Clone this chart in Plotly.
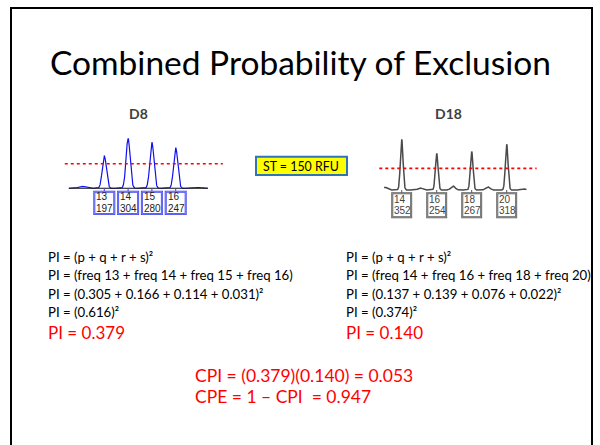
import numpy as np
import plotly.graph_objects as go

W, H = 600, 445

# ---------------- data ----------------
d8_alleles = [13, 14, 15, 16]
d8_rfu = [197, 304, 280, 247]
d8_minor_x = [12.05, 16.94]
d8_minor_h = [12, 6]

d18_alleles = [14, 16, 18, 20]
d18_rfu = [352, 254, 267, 318]
d18_minor_x = [13.05, 15.05, 16.93, 18.93, 20.93]
d18_minor_h = [19, 14, 28, 21, 10]

threshold_rfu = 150

left_lines = ["PI = (p + q + r + s)²",
              "PI = (freq 13 + freq 14 + freq 15 + freq 16)",
              "PI = (0.305 + 0.166 + 0.114 + 0.031)²",
              "PI = (0.616)²"]
left_result = "PI = 0.379"
right_lines = ["PI = (p + q + r + s)²",
               "PI = (freq 14 + freq 16 + freq 18 + freq 20)",
               "PI = (0.137 + 0.139 + 0.076 + 0.022)²",
               "PI = (0.374)²"]
right_result = "PI = 0.140"
cpi_lines = ["CPI = (0.379)(0.140) = 0.053",
             "CPE = 1 – CPI  = 0.947"]

TITLE = "Combined Probability of Exclusion"
FONT = "Lato"


def px(p):
    return p / W


def py(p):
    return 1 - p / H


def trace_signal(alleles, heights, mx, mh, x0, x1, sigma):
    xs = np.linspace(x0, x1, 1400)
    ys = np.zeros_like(xs)
    for a, h in zip(list(alleles) + list(mx), list(heights) + list(mh)):
        s = sigma if h > 60 else sigma * 1.6
        ys += h * np.exp(-0.5 * ((xs - a) / s) ** 2)
    return xs, ys


fig = go.Figure()

# ---- D8 panel (axis x / y) ----
xs, ys = trace_signal(d8_alleles, d8_rfu, d8_minor_x, d8_minor_h, 11.51, 17.35, 0.085)
fig.add_trace(go.Scatter(x=xs, y=ys, mode="lines", line=dict(color="#1010f0", width=1.2),
                         xaxis="x", yaxis="y", hoverinfo="skip"))
fig.add_trace(go.Scatter(x=[11.51, 17.35], y=[0, 0], mode="lines",
                         line=dict(color="#111111", width=1.2), xaxis="x", yaxis="y", hoverinfo="skip"))
fig.add_trace(go.Scatter(x=[11.34, 17.98], y=[threshold_rfu, threshold_rfu], mode="lines",
                         line=dict(color="#ff0000", width=1.6, dash="dot"), xaxis="x", yaxis="y",
                         hoverinfo="skip"))

# ---- D18 panel (axis x2 / y2) ----
xs2, ys2 = trace_signal(d18_alleles, d18_rfu, d18_minor_x, d18_minor_h, 12.99, 21.13, 0.075)
fig.add_trace(go.Scatter(x=xs2, y=ys2, mode="lines", line=dict(color="#4a4a4a", width=1.5),
                         xaxis="x2", yaxis="y2", hoverinfo="skip"))
fig.add_trace(go.Scatter(x=[12.72, 21.71], y=[threshold_rfu, threshold_rfu], mode="lines",
                         line=dict(color="#ff0000", width=1.6, dash="dot"), xaxis="x2", yaxis="y2",
                         hoverinfo="skip"))

hidden = dict(visible=False, showgrid=False, zeroline=False, fixedrange=True)
fig.update_layout(
    width=W, height=H, margin=dict(l=0, r=0, t=0, b=0),
    paper_bgcolor="white", plot_bgcolor="rgba(0,0,0,0)", showlegend=False,
    xaxis=dict(domain=[px(60), px(225)], range=[11.139, 18.071], **hidden),
    yaxis=dict(domain=[py(189.9), py(134.2)], range=[-10, 330], **hidden),
    xaxis2=dict(domain=[px(375), px(540)], range=[12.474, 21.903], anchor="y2", **hidden),
    yaxis2=dict(domain=[py(191.44), py(135.32)], range=[-10, 380], anchor="x2", **hidden),
)

shapes = []
annotations = []


def text(x, y, t, size, color="black", xanchor="center", family=FONT, xref="paper", xshift=0):
    annotations.append(dict(xref=xref, yref="paper", x=x, y=y, text=t, showarrow=False,
                            xanchor=xanchor, yanchor="middle", xshift=xshift, borderpad=0,
                            font=dict(family=family, size=size, color=color)))


# slide frame
shapes.append(dict(type="rect", xref="paper", yref="paper", x0=px(11), x1=px(592),
                   y0=py(460), y1=py(8), line=dict(color="black", width=2)))


# allele label boxes
def add_boxes(alleles, rfu, xref, half, top, bottom, base, l1, l2, bcol, inner, tcol):
    for a, r in zip(alleles, rfu):
        shapes.append(dict(type="line", xref=xref, yref="paper", x0=a, x1=a,
                           y0=py(base), y1=py(top), line=dict(color=bcol, width=1)))
        shapes.append(dict(type="rect", xref=xref, yref="paper", x0=a - half, x1=a + half,
                           y0=py(bottom), y1=py(top), line=dict(color=bcol, width=2),
                           fillcolor="white"))
        shapes.append(dict(type="rect", xref=xref, yref="paper", x0=a - half, x1=a + half,
                           y0=py(bottom), y1=py(top), line=dict(color=inner, width=0.6)))
        text(a - half, py(l1), str(a), 10, tcol, "left", "Liberation Sans", xref, 1)
        text(a - half, py(l2), str(r), 10, tcol, "left", "Liberation Sans", xref, 1)


add_boxes(d8_alleles, d8_rfu, "x", 0.42, 191.7, 214.0, 188.3, 197.0, 208.3,
          "#3c3cf0", "#a8b8ff", "#222222")
add_boxes(d18_alleles, d18_rfu, "x2", 0.54, 193.3, 217.3, 190.0, 199.0, 210.5,
          "#555555", "#bbbbbb", "#444444")

# panel titles
text(px(138), py(113), "<b>D8</b>", 14, "#404040")
text(px(448), py(113), "<b>D18</b>", 14, "#404040")

# ST box
shapes.append(dict(type="rect", xref="paper", yref="paper", x0=px(256), x1=px(347),
                   y0=py(175), y1=py(156.7), fillcolor="#ffff00",
                   line=dict(color="#2e75b6", width=2)))
text(px(301.5), py(166), "ST = 150 RFU", 12.4)

# title
text(0.5, py(62), TITLE, 33.5)

# formula blocks
line_y = [257, 275.3, 293.6, 311.9]
for xpos, lines, res in ((47, left_lines, left_result), (345, right_lines, right_result)):
    for t, yy in zip(lines, line_y):
        text(px(xpos), py(yy), t, 13.2, "black", "left")
    text(px(xpos), py(332), res, 17, "#ff0000", "left")

for t, yy in zip(cpi_lines, [375, 396.7]):
    text(px(194), py(yy), t, 17.5, "#ff0000", "left")

fig.update_layout(shapes=shapes, annotations=annotations)
fig.write_html("out.html", post_script="document.body.style.margin='0';",
               config={"displayModeBar": False})
